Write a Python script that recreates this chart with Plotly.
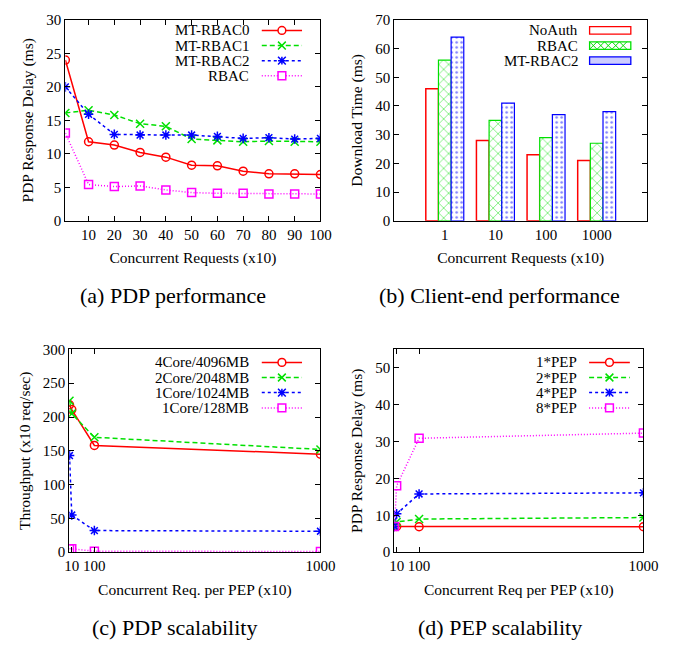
import plotly.graph_objects as go

# ---------------- data ----------------
# (a) PDP performance
a_x = [1, 10, 20, 30, 40, 50, 60, 70, 80, 90, 100]
a_mtrbac0 = [24.0, 11.8, 11.3, 10.2, 9.5, 8.3, 8.2, 7.4, 7.0, 7.0, 6.9]
a_mtrbac1 = [16.1, 16.5, 15.8, 14.5, 14.1, 12.2, 12.0, 11.8, 11.9, 11.8, 11.8]
a_mtrbac2 = [20.0, 15.9, 12.9, 12.8, 12.8, 12.8, 12.6, 12.3, 12.4, 12.2, 12.3]
a_rbac = [13.1, 5.4, 5.1, 5.2, 4.6, 4.2, 4.1, 4.1, 4.0, 4.0, 4.0]
a_names = ["MT-RBAC0", "MT-RBAC1", "MT-RBAC2", "RBAC"]
a_xticks = [10, 20, 30, 40, 50, 60, 70, 80, 90, 100]

# (b) Client-end performance
b_cats = ["1", "10", "100", "1000"]
b_noauth = [46, 28, 23, 21]
b_rbac = [56, 35, 29, 27]
b_mtrbac2 = [64, 41, 37, 38]
b_names = ["NoAuth", "RBAC", "MT-RBAC2"]

# (c) PDP scalability
c_x = [1, 10, 100, 1000]
c_4core = [218, 211, 158, 145]
c_2core = [224, 205, 170, 152]
c_1core1024 = [143, 55, 32, 31]
c_1core128 = [5, 5, 1.5, 1]
c_names = ["4Core/4096MB", "2Core/2048MB", "1Core/1024MB", "1Core/128MB"]

# (d) PEP scalability
d_x = [1, 10, 100, 1000]
d_1pep = [7.0, 7.0, 6.9, 6.9]
d_2pep = [7.0, 8.2, 9.0, 9.4]
d_4pep = [7.0, 10.4, 15.8, 16.1]
d_8pep = [7.0, 18.0, 30.9, 32.3]
d_names = ["1*PEP", "2*PEP", "4*PEP", "8*PEP"]
cd_xticks = [10, 100, 1000]

# ---------------- style ----------------
FONT = "Liberation Serif"
RED, GREEN, BLUE, MAG = "#ff0000", "#00e000", "#0000ff", "#ff00ff"
W, H = 680, 654          # window
OFF = 8                  # page body margin
FW, FH = W - 2 * OFF, H - 2 * OFF   # figure size that fits the window exactly
TICK_FS, TITLE_FS, LEG_FS, CAP_FS = 15, 15.5, 15, 22

styles = [
    dict(color=RED, dash="solid", symbol="circle-open", kind="circle"),
    dict(color=GREEN, dash="5px,3px", symbol="x-thin-open", kind="x"),
    dict(color=BLUE, dash="3px,3px", symbol="asterisk-open", kind="asterisk"),
    dict(color=MAG, dash="1px,2px", symbol="square-open", kind="square"),
]

fig = go.Figure()


def add_lines(xs, series, names, xa, ya):
    for ys, nm, st in zip(series, names, styles):
        fig.add_trace(go.Scatter(
            x=xs, y=ys, name=nm, mode="lines+markers", showlegend=False,
            xaxis=xa, yaxis=ya,
            line=dict(color=st["color"], width=1.5, dash=st["dash"]),
            marker=dict(symbol=st["symbol"], size=8, color=st["color"],
                        line=dict(color=st["color"], width=1.5)),
        ))


add_lines(a_x, [a_mtrbac0, a_mtrbac1, a_mtrbac2, a_rbac], a_names, "x", "y")

fig.add_trace(go.Bar(x=b_cats, y=b_noauth, name=b_names[0], xaxis="x2", yaxis="y2",
                     showlegend=False,
                     marker=dict(color="white", line=dict(color=RED, width=1.5))))
fig.add_trace(go.Bar(x=b_cats, y=b_rbac, name=b_names[1], xaxis="x2", yaxis="y2",
                     showlegend=False,
                     marker=dict(color="white", line=dict(color=GREEN, width=1.2),
                                 pattern=dict(shape="x", fgcolor=GREEN, bgcolor="white",
                                              size=7, solidity=0.25))))
fig.add_trace(go.Bar(x=b_cats, y=b_mtrbac2, name=b_names[2], xaxis="x2", yaxis="y2",
                     showlegend=False,
                     marker=dict(color="white", line=dict(color=BLUE, width=1.2),
                                 pattern=dict(shape=".", fgcolor=BLUE, bgcolor="white",
                                              size=5, solidity=0.2))))

add_lines(c_x, [c_4core, c_2core, c_1core1024, c_1core128], c_names, "x3", "y3")
add_lines(d_x, [d_1pep, d_2pep, d_4pep, d_8pep], d_names, "x4", "y4")


# ---------------- layout (window pixel -> paper) ----------------
def px(x):
    return (x - OFF) / FW


def py(y):
    return 1 - (y - OFF) / FH


def dx(l, r):
    return [px(l), px(r)]


def dy(t, b):
    return [py(b), py(t)]


axis_common = dict(
    showline=True, linecolor="black", linewidth=1, mirror="ticks",
    ticks="inside", ticklen=5, tickcolor="black", showgrid=False, zeroline=False,
    tickfont=dict(family=FONT, size=TICK_FS, color="black"),
)
title_font = dict(family=FONT, size=TITLE_FS, color="black")

TOP_T, TOP_B = 12, 218
BOT_T, BOT_B = 350, 558
RX_B = 662
RX_D = 658

fig.update_layout(
    width=FW, height=FH, margin=dict(l=0, r=0, t=0, b=0, pad=0),
    paper_bgcolor="white", plot_bgcolor="white",
    font=dict(family=FONT, size=TICK_FS, color="black"),
    barmode="group", bargap=0.25, bargroupgap=0, showlegend=False,
    xaxis=dict(domain=dx(62, 325), anchor="y", range=[1, 100], tickvals=a_xticks,
               title=dict(text="Concurrent Requests (x10)", font=title_font, standoff=10),
               **axis_common),
    yaxis=dict(domain=dy(TOP_T, TOP_B), anchor="x", range=[0, 30], dtick=5,
               title=dict(text="PDP Response Delay (ms)", font=title_font, standoff=8),
               **axis_common),
    xaxis2=dict(domain=dx(401, RX_B), anchor="y2", type="category", range=[-1, 4],
                title=dict(text="Concurrent Requests (x10)", font=title_font, standoff=10),
                **{**axis_common, "ticks": ""}),
    yaxis2=dict(domain=dy(TOP_T, TOP_B), anchor="x2", range=[0, 70], dtick=10,
                title=dict(text="Download Time (ms)", font=title_font, standoff=8),
                **axis_common),
    xaxis3=dict(domain=dx(66, 325), anchor="y3", range=[0, 1000], tickvals=cd_xticks,
                title=dict(text="Concurrent Req. per PEP (x10)", font=title_font, standoff=10),
                **axis_common),
    yaxis3=dict(domain=dy(BOT_T, BOT_B), anchor="x3", range=[0, 300], dtick=50,
                title=dict(text="Throughput (x10 req/sec)", font=title_font, standoff=8),
                **axis_common),
    xaxis4=dict(domain=dx(401, RX_D), anchor="y4", range=[0, 1000], tickvals=cd_xticks,
                title=dict(text="Concurrent Req per PEP (x10)", font=title_font, standoff=10),
                **axis_common),
    yaxis4=dict(domain=dy(BOT_T, BOT_B), anchor="x4", range=[0, 55], tickvals=[0, 10, 20, 30, 40, 50],
                title=dict(text="PDP Response Delay (ms)", font=title_font, standoff=8),
                **axis_common),
)

# ---------------- gnuplot-style keys (text right, sample left->right) ----------------
shapes = []


def key_text(text, right, y):
    fig.add_annotation(text=text, x=px(right), y=py(y), xref="paper", yref="paper",
                       showarrow=False, xanchor="right", yanchor="middle",
                       font=dict(family=FONT, size=LEG_FS, color="black"))


def seg_path(segs):
    return " ".join(f"M {px(a[0])},{py(a[1])} L {px(b[0])},{py(b[1])}" for a, b in segs)


def key_line(st, x0, x1, y, r=4):
    c = st["color"]
    shapes.append(dict(type="line", xref="paper", yref="paper", x0=px(x0), x1=px(x1),
                       y0=py(y), y1=py(y), line=dict(color=c, width=1.5, dash=st["dash"])))
    cx = (x0 + x1) / 2
    k = st["kind"]
    if k in ("circle", "square"):
        shapes.append(dict(type="circle" if k == "circle" else "rect", xref="paper", yref="paper",
                           x0=px(cx - r), x1=px(cx + r), y0=py(y + r), y1=py(y - r),
                           line=dict(color=c, width=1.5), fillcolor="white"))
    else:
        segs = [((cx - r, y - r), (cx + r, y + r)), ((cx - r, y + r), (cx + r, y - r))]
        if k == "asterisk":
            segs += [((cx - r, y), (cx + r, y)), ((cx, y - r), (cx, y + r))]
        shapes.append(dict(type="path", xref="paper", yref="paper", path=seg_path(segs),
                           line=dict(color=c, width=1.5)))


def key_box(kind, color, x0, x1, y, h=7.7):
    top, bot = y - h / 2, y + h / 2
    fill = "white" if kind != "dots" else "rgba(0,0,255,0.2)"
    shapes.append(dict(type="rect", xref="paper", yref="paper", x0=px(x0), x1=px(x1),
                       y0=py(bot), y1=py(top), line=dict(color=color, width=1.3),
                       fillcolor=fill))
    if kind == "x":
        segs = []
        xx = x0
        while xx + h <= x1 + 0.1:
            segs += [((xx, top), (xx + h, bot)), ((xx, bot), (xx + h, top))]
            xx += h
        shapes.append(dict(type="path", xref="paper", yref="paper", path=seg_path(segs),
                           line=dict(color=color, width=1)))


rows_top = [22.8, 38.3, 53.8, 69.3]
rows_bot = [363.3, 378.8, 394.3, 410.0]
for nm, st, y in zip(a_names, styles, rows_top):
    key_text(nm, 253.5, y)
    key_line(st, 264.5, 306, y)
for nm, st, y in zip(c_names, styles, rows_bot):
    key_text(nm, 253.5, y)
    key_line(st, 264.5, 306, y)
for nm, st, y in zip(d_names, styles, rows_bot):
    key_text(nm, 592, y)
    key_line(st, 602, 644, y)
for nm, (kind, col), y in zip(b_names, [("empty", RED), ("x", GREEN), ("dots", BLUE)], rows_top):
    key_text(nm, 592.5, y)
    key_box(kind, col, 602.5, 645, y)

fig.update_layout(shapes=shapes)

caps = [("(a) PDP performance", 173, 295), ("(b) Client-end performance", 510, 295),
        ("(c) PDP scalability", 174, 635), ("(d) PEP scalability", 510, 635)]
for txt, cx, cy in caps:
    fig.add_annotation(text=txt, x=px(cx), y=py(cy), xref="paper", yref="paper",
                       showarrow=False, xanchor="center", yanchor="middle",
                       font=dict(family=FONT, size=CAP_FS, color="black"))

fig.write_html("out.html", config={"displayModeBar": False})
